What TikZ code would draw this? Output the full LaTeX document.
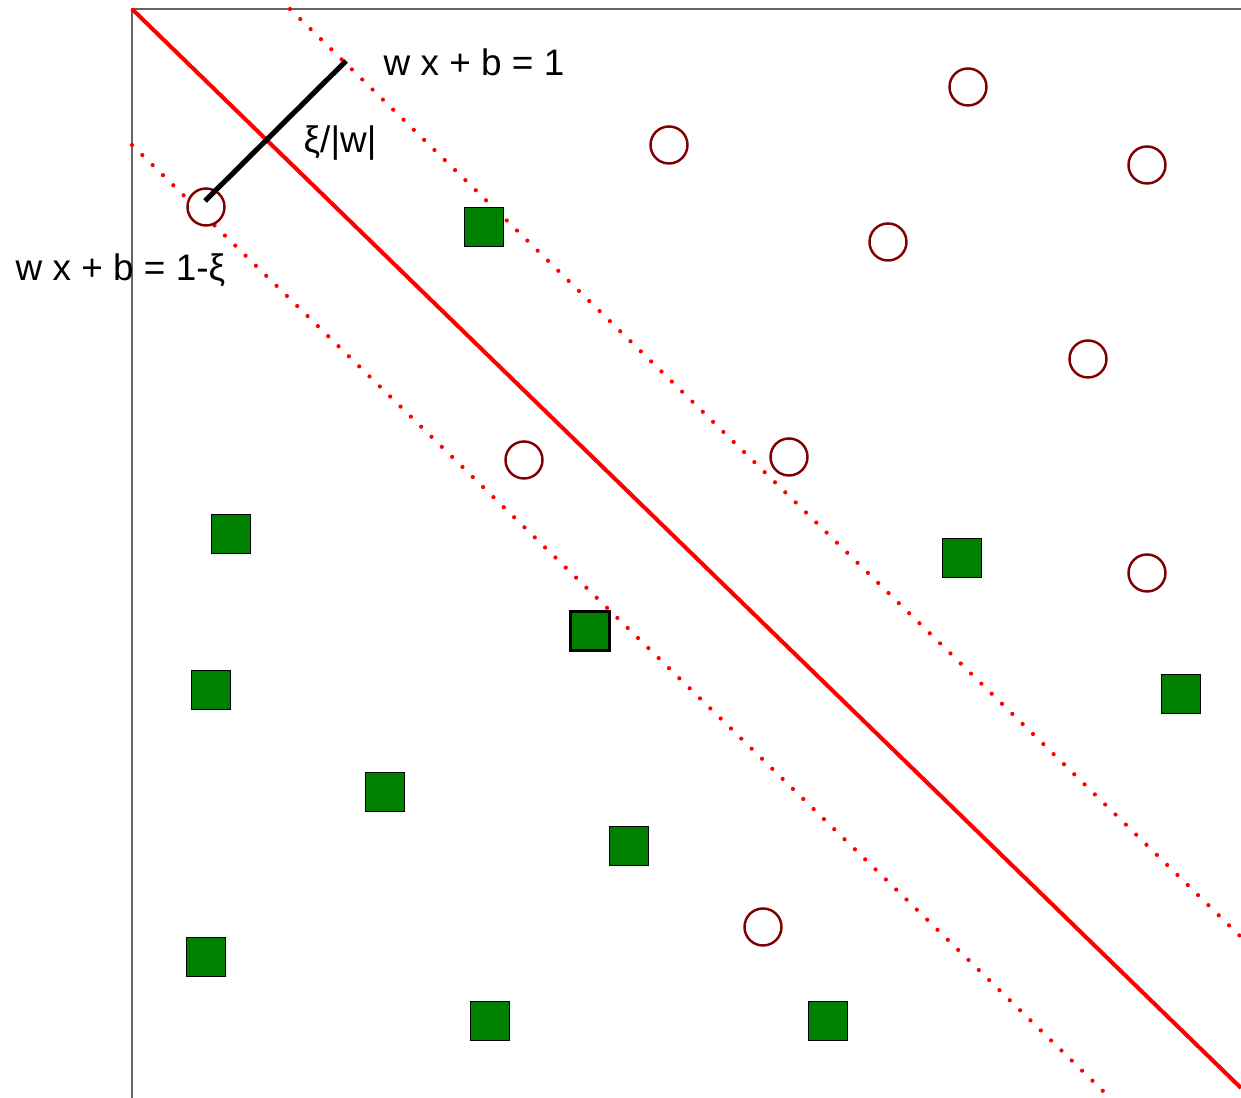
\documentclass[tikz,border=0pt]{standalone}
\usepackage{fontspec}
\setmainfont{Liberation Sans}
\begin{document}
\begin{tikzpicture}[x=0.01cm,y=-0.01cm,
  axis/.style={draw=black!60,line width=0.5pt},
  sep/.style={draw=red,line width=1.15pt},
  marg/.style={draw=red,line width=1.2pt,line cap=round,dash pattern=on 0pt off 4.1pt},
  negcirc/.style={circle,draw=red!50!black,line width=0.7pt,minimum size=0.37cm,inner sep=0pt,fill=white},
  possq/.style={rectangle,draw=black,line width=0.3pt,fill=green!50!black,minimum size=0.39cm,inner sep=0pt},
  lbl/.style={font=\fontsize{10.5}{12}\selectfont,inner sep=0pt}]
\useasboundingbox (0,0) rectangle (1241,1098);
% axes
\coordinate (o) at (132,9);
\coordinate (ytop) at (132,1098);
\coordinate (xr) at (1241,9);
\draw[axis] (ytop) -- (o) -- (xr);
% separating lines
\coordinate (s1) at (132,9);
\coordinate (s2) at (1241,1088);
\draw[sep] (s1) -- (s2);
\coordinate (u1) at (290,9);
\coordinate (u2) at (1241,937);
\draw[marg] (u1) -- (u2);
\coordinate (l1) at (132,145);
\coordinate (l2) at (1104,1092);
\draw[marg] (l1) -- (l2);
% circles
\node[negcirc] (c1) at (206,207) {};
\node[negcirc] (c2) at (669,145) {};
\node[negcirc] (c3) at (968,87) {};
\node[negcirc] (c4) at (1147,165) {};
\node[negcirc] (c5) at (888,242) {};
\node[negcirc] (c6) at (1088,359) {};
\node[negcirc] (c7) at (524,460) {};
\node[negcirc] (c8) at (789,457) {};
\node[negcirc] (c9) at (1147,573) {};
\node[negcirc] (c10) at (763,927) {};
% squares
\node[possq] (q1) at (484,227) {};
\node[possq] (q2) at (231,534) {};
\node[possq] (q3) at (211,690) {};
\node[possq,line width=0.85pt] (q4) at (590,631) {};
\node[possq] (q5) at (385,792) {};
\node[possq] (q6) at (629,846) {};
\node[possq] (q7) at (206,957) {};
\node[possq] (q8) at (490,1021) {};
\node[possq] (q9) at (828,1021) {};
\node[possq] (q10) at (962,558) {};
\node[possq] (q11) at (1181,694) {};
% slack segment
\coordinate (k1) at (205,201);
\coordinate (k2) at (346,61);
\draw[black,line width=1.45pt] (k1) -- (k2);
% labels
\node[lbl,anchor=west] (t1) at (383,62) {w x + b = 1};
\node[lbl,anchor=west] (t2) at (303,143) {ξ/|w|};
\node[lbl,anchor=west] (t3) at (15,270) {w x + b = 1-ξ};
\end{tikzpicture}
\end{document}
